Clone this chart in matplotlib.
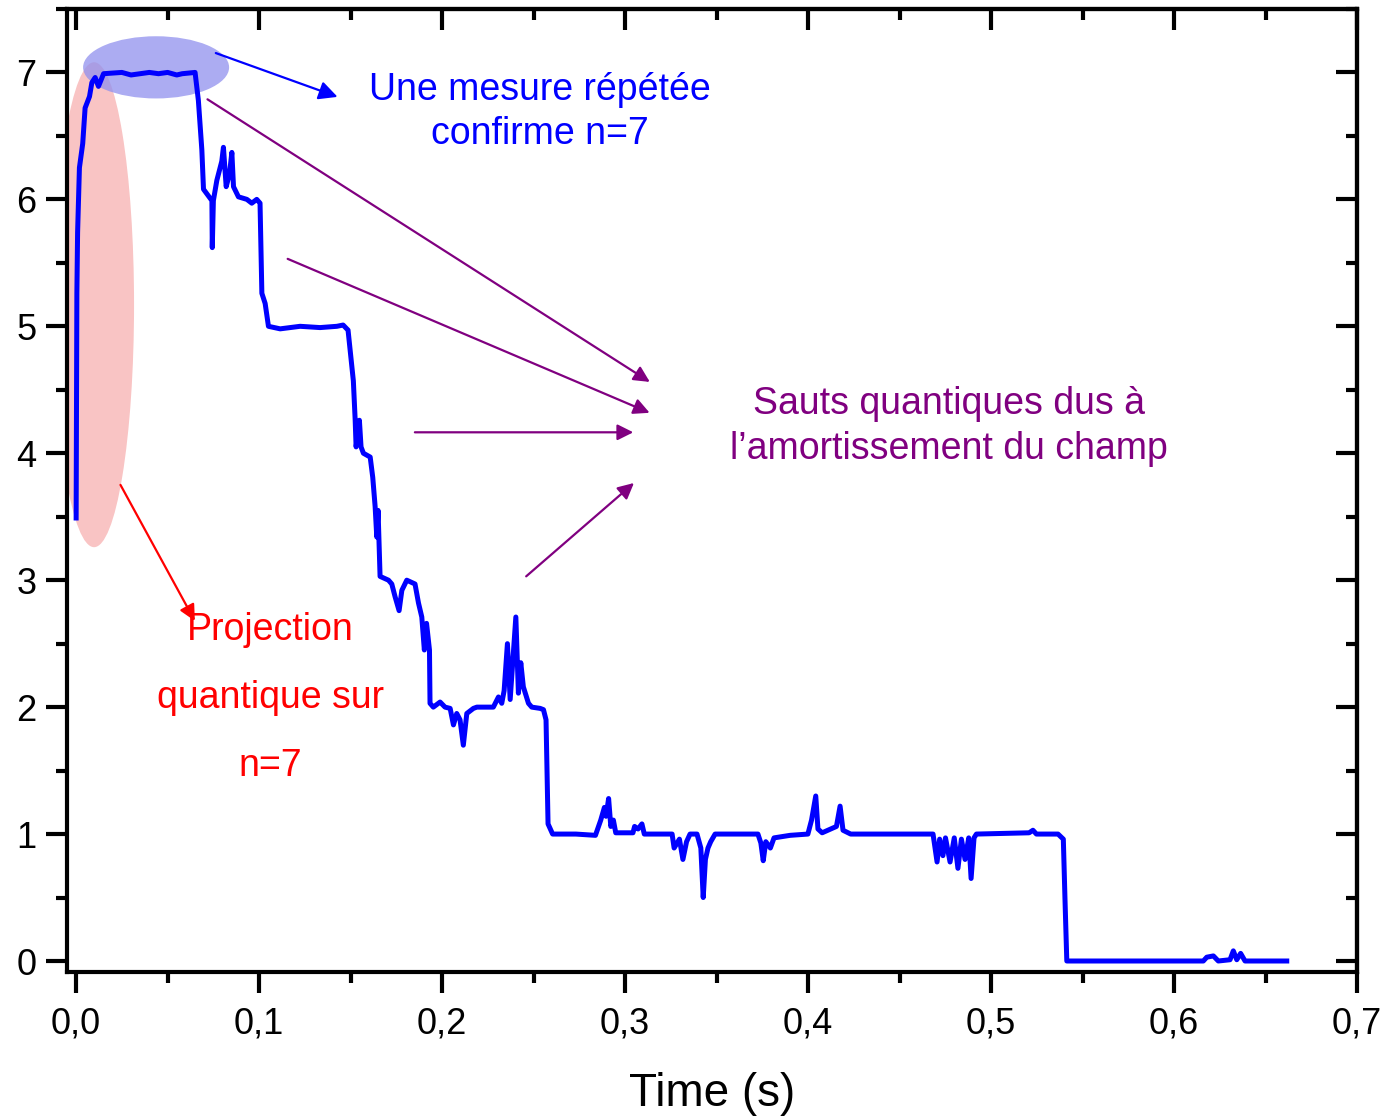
import matplotlib
matplotlib.use("Agg")
import matplotlib.pyplot as plt
from matplotlib.patches import Ellipse
from matplotlib.ticker import MultipleLocator, FuncFormatter

plt.rcParams['font.family'] = ['Liberation Sans', 'DejaVu Sans']

# photon number trace
time = [0.0, 0.0004, 0.0008, 0.0018, 0.0036, 0.0049, 0.0073, 0.0086, 0.0104, 0.0122,
        0.0150, 0.025, 0.030, 0.035, 0.040, 0.045, 0.050, 0.055, 0.058, 0.0650,
        0.0668, 0.0687, 0.0696, 0.0742, 0.0744, 0.0750, 0.0769, 0.0796, 0.0805, 0.0820,
        0.0838, 0.0851, 0.0860, 0.0887, 0.0933, 0.0960, 0.0987, 0.1005, 0.1015, 0.1033,
        0.1051, 0.1115, 0.1224, 0.1333, 0.1425, 0.1459, 0.1486, 0.1515, 0.1525, 0.1530,
        0.1548, 0.1557, 0.1570, 0.1607, 0.1621, 0.1634, 0.1643, 0.1650, 0.1661, 0.1707,
        0.1725, 0.1743, 0.1765, 0.1780, 0.1807, 0.1852, 0.1871, 0.1889, 0.1903, 0.1915,
        0.1931, 0.1934, 0.1952, 0.1989, 0.2016, 0.2044, 0.2062, 0.2080, 0.2098, 0.2116,
        0.2135, 0.2171, 0.2190, 0.2280, 0.2308, 0.2326, 0.2339, 0.2357, 0.2372, 0.2386,
        0.2403, 0.2417, 0.2430, 0.2444, 0.2472, 0.2490, 0.2536, 0.2554, 0.2568, 0.2579,
        0.2604, 0.2731, 0.2838, 0.2867, 0.2887, 0.2896, 0.2910, 0.2922, 0.2936, 0.2949,
        0.3043, 0.3052, 0.3071, 0.3092, 0.3105, 0.3257, 0.3268, 0.3297, 0.3316, 0.3336,
        0.3355, 0.3393, 0.3414, 0.3427, 0.3439, 0.3453, 0.3468, 0.3492, 0.3726, 0.3742,
        0.3755, 0.3769, 0.3794, 0.3814, 0.3902, 0.3999, 0.4019, 0.4042, 0.4054, 0.4077,
        0.4155, 0.4175, 0.4191, 0.4233, 0.4683, 0.4705, 0.4719, 0.4737, 0.4751, 0.4776,
        0.4799, 0.4819, 0.4838, 0.4858, 0.4878, 0.4891, 0.4907, 0.4920, 0.5208, 0.5229,
        0.5248, 0.5366, 0.5395, 0.5404, 0.5414, 0.6160, 0.6179, 0.6215, 0.6242, 0.6306,
        0.6324, 0.6343, 0.6364, 0.6388, 0.6616]
photons = [3.49, 5.26, 5.74, 6.25, 6.44, 6.72, 6.81, 6.92, 6.96, 6.89,
           6.99, 7.0, 6.98, 6.99, 7.0, 6.99, 7.0, 6.98, 6.99, 7.0,
           6.78, 6.39, 6.08, 5.99, 5.62, 5.99, 6.15, 6.30, 6.41, 6.10,
           6.20, 6.37, 6.10, 6.02, 6.00, 5.97, 6.00, 5.97, 5.26, 5.18,
           5.00, 4.98, 5.00, 4.99, 5.00, 5.01, 4.97, 4.57, 4.26, 4.05,
           4.26, 4.05, 4.00, 3.97, 3.81, 3.58, 3.34, 3.55, 3.03, 3.00,
           2.97, 2.87, 2.76, 2.92, 3.00, 2.97, 2.82, 2.71, 2.45, 2.66,
           2.45, 2.03, 2.00, 2.04, 2.00, 1.99, 1.86, 1.95, 1.90, 1.70,
           1.95, 1.99, 2.00, 2.00, 2.08, 2.03, 2.13, 2.50, 2.06, 2.35,
           2.71, 2.11, 2.35, 2.16, 2.03, 2.00, 1.99, 1.98, 1.90, 1.08,
           1.00, 1.00, 0.99, 1.11, 1.21, 1.14, 1.28, 1.06, 1.11, 1.01,
           1.01, 1.06, 1.04, 1.08, 1.00, 1.00, 0.89, 0.96, 0.80, 0.94,
           1.00, 1.00, 0.89, 0.50, 0.80, 0.89, 0.94, 1.00, 1.00, 0.93,
           0.79, 0.94, 0.89, 0.97, 0.99, 1.00, 1.11, 1.30, 1.04, 1.01,
           1.06, 1.22, 1.03, 1.00, 1.00, 0.78, 0.96, 0.83, 0.97, 0.78,
           0.97, 0.73, 0.96, 0.80, 0.97, 0.65, 0.97, 1.00, 1.01, 1.03,
           1.00, 1.00, 0.96, 0.49, 0.00, 0.00, 0.03, 0.04, 0.00, 0.01,
           0.08, 0.01, 0.06, 0.00, 0.00]

fig = plt.figure(figsize=(13.84, 11.2), dpi=100)
ax = fig.add_axes([0.0484, 0.1321, 0.9321, 0.8599])

# highlighted regions
ax.add_patch(Ellipse((0.0098, 5.17), 0.0437, 3.82, facecolor='#f7b0b0', alpha=0.75,
                     edgecolor='none', zorder=1))
ax.add_patch(Ellipse((0.0437, 7.04), 0.0798, 0.49, facecolor='#9090ee', alpha=0.75,
                     edgecolor='none', zorder=2))

ax.plot(time, photons, color='#0000ff', lw=3.6, zorder=3)

# arrows
ax.annotate('', xy=(0.1443, 6.80), xytext=(0.0749, 7.16),
            arrowprops=dict(arrowstyle='-|>', color='#0000ff', lw=1.6, mutation_scale=28))
purple = '#800080'
for start, end in [((0.0705, 6.80), (0.3148, 4.55)),
                   ((0.1142, 5.54), (0.3148, 4.31)),
                   ((0.1836, 4.165), (0.3060, 4.165)),
                   ((0.2448, 3.016), (0.3060, 3.78))]:
    ax.annotate('', xy=end, xytext=start,
                arrowprops=dict(arrowstyle='-|>', color=purple, lw=1.6, mutation_scale=24))
ax.annotate('', xy=(0.0656, 2.66), xytext=(0.0235, 3.77),
            arrowprops=dict(arrowstyle='-|>', color='#ff0000', lw=1.6, mutation_scale=24))

ax.text(0.2536, 6.69, 'Une mesure répétée\nconfirme n=7', color='#0000ff', fontsize=27,
        ha='center', va='center', linespacing=1.3)
ax.text(0.477, 4.21, 'Sauts quantiques dus à\nl\u2019amortissement du champ', color=purple,
        fontsize=27, ha='center', va='center', linespacing=1.3)
ax.text(0.106, 2.07, 'Projection\nquantique sur\nn=7', color='#ff0000', fontsize=27,
        ha='center', va='center', linespacing=2.15)

ax.set_xlim(-0.005, 0.7)
ax.set_ylim(-0.087, 7.5)
ax.xaxis.set_major_locator(MultipleLocator(0.1))
ax.xaxis.set_minor_locator(MultipleLocator(0.05))
ax.yaxis.set_major_locator(MultipleLocator(1))
ax.yaxis.set_minor_locator(MultipleLocator(0.5))
ax.xaxis.set_major_formatter(FuncFormatter(lambda v, p: f"{v:.1f}".replace('.', ',')))

for s in ax.spines.values():
    s.set_linewidth(3)
ax.tick_params(which='both', direction='out', width=3, labelsize=26)
ax.tick_params(which='major', length=15)
ax.tick_params(which='minor', length=8)
ax.tick_params(axis='x', pad=10)
ax.tick_params(axis='y', pad=7)

# inward ticks on top and right
axt = ax.secondary_xaxis('top')
axt.xaxis.set_major_locator(MultipleLocator(0.1))
axt.xaxis.set_minor_locator(MultipleLocator(0.05))
axt.tick_params(which='both', direction='in', width=3, labeltop=False)
axt.tick_params(which='major', length=15)
axt.tick_params(which='minor', length=8)
axt.spines['top'].set_linewidth(3)
axr = ax.secondary_yaxis('right')
axr.yaxis.set_major_locator(MultipleLocator(1))
axr.yaxis.set_minor_locator(MultipleLocator(0.5))
axr.tick_params(which='both', direction='in', width=3, labelright=False)
axr.tick_params(which='major', length=15)
axr.tick_params(which='minor', length=8)
axr.spines['right'].set_linewidth(3)

ax.set_xlabel('Time (s)', fontsize=33, labelpad=22)

fig.savefig('out.png', dpi=100)
